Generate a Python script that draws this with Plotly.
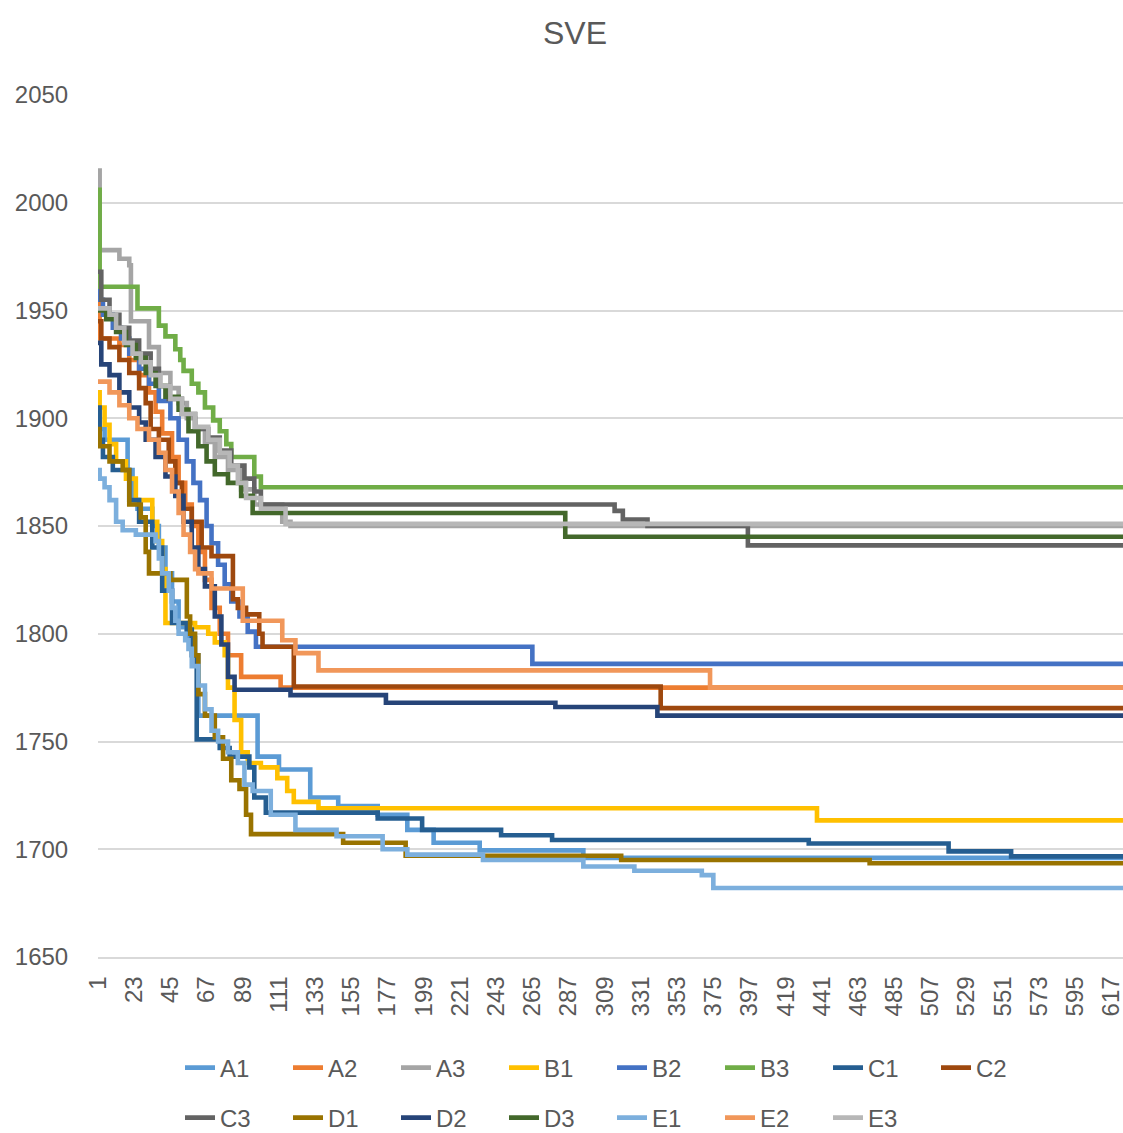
import plotly.graph_objects as go

# ---- data: (iteration, best value) step points ----
A1 = [(1, 1895), (5, 1890), (19, 1876), (22, 1862), (25, 1858), (34, 1850), (38, 1840), (42, 1828),
      (46, 1815), (50, 1803), (55, 1798), (60, 1790), (62, 1762), (98, 1743), (111, 1737), (130, 1724),
      (147, 1720), (171, 1716), (189, 1709), (205, 1703), (233, 1699.5), (296, 1696), (624, 1696)]
A2 = [(1, 1962), (2, 1937), (14, 1934), (20, 1927), (26, 1920), (32, 1912), (36, 1903), (40, 1893),
      (46, 1882), (50, 1870), (54, 1860), (58, 1850), (62, 1838), (66, 1825), (70, 1812), (75, 1800),
      (80, 1790), (88, 1780), (112, 1775), (624, 1775)]
A3 = [(1, 2015), (2, 1978), (14, 1974), (20, 1971), (21, 1945), (32, 1933), (38, 1921), (45, 1914),
      (50, 1907), (55, 1900), (60, 1895), (66, 1889), (72, 1882), (80, 1876), (88, 1867), (96, 1860),
      (113, 1852), (118, 1850), (624, 1850)]
B1 = [(1, 1912), (2, 1905), (5, 1897), (8, 1888), (12, 1880), (18, 1872), (24, 1862), (34, 1852),
      (37, 1843), (40, 1830), (42, 1805), (60, 1803), (68, 1800), (72, 1796), (78, 1790), (80, 1775),
      (84, 1760), (88, 1745), (92, 1740), (100, 1738), (110, 1733), (116, 1727), (120, 1722),
      (135, 1719), (438, 1713.4), (624, 1713.4)]
B2 = [(1, 1962), (2, 1955), (4, 1948), (10, 1942), (15, 1937), (20, 1930), (26, 1923), (32, 1916),
      (38, 1908), (45, 1900), (50, 1890), (55, 1880), (59, 1870), (63, 1862), (67, 1850), (70, 1842),
      (74, 1832), (78, 1823), (82, 1815), (87, 1808), (92, 1801), (97, 1794), (265, 1786), (624, 1786)]
B3 = [(1, 2006), (2, 1961), (25, 1951), (38, 1943), (42, 1938), (48, 1932), (51, 1927), (53, 1922),
      (58, 1916), (62, 1912), (66, 1905), (71, 1899), (75, 1894), (79, 1888), (82, 1882), (96, 1873),
      (100, 1868), (624, 1868)]
C1 = [(1, 1905), (2, 1890), (4, 1882), (10, 1876), (20, 1862), (26, 1852), (34, 1840), (40, 1820),
      (46, 1805), (55, 1802), (58, 1790), (61, 1751), (75, 1747), (81, 1743), (93, 1738), (96, 1724),
      (103, 1717), (171, 1714.3), (198, 1709), (246, 1706.5), (277, 1704.3), (433, 1702.7),
      (518, 1699), (556, 1696.7), (624, 1696.7)]
C2 = [(1, 1945), (3, 1937), (8, 1933), (14, 1927), (20, 1921), (26, 1914), (30, 1907), (33, 1895),
      (38, 1890), (44, 1880), (48, 1870), (52, 1858), (58, 1852), (64, 1840), (70, 1836), (83, 1816),
      (86, 1812), (91, 1809), (99, 1800), (101, 1794), (120, 1775.5), (343, 1765.5), (624, 1765.5)]
C3 = [(1, 1968), (3, 1955), (8, 1948), (14, 1942), (20, 1936), (26, 1930), (33, 1923), (38, 1915),
      (44, 1909), (52, 1902), (60, 1895), (68, 1891), (75, 1885), (82, 1878), (90, 1872), (96, 1866),
      (100, 1860), (315, 1857), (320, 1853), (335, 1850), (396, 1841), (624, 1841)]
D1 = [(1, 1895), (2, 1887), (8, 1880), (16, 1876), (20, 1860), (27, 1854), (30, 1838), (32, 1828),
      (45, 1825), (55, 1808), (57, 1800), (60, 1790), (62, 1772), (66, 1762), (72, 1752), (77, 1742),
      (82, 1732), (87, 1728), (91, 1716), (94, 1707), (150, 1703), (188, 1697), (319, 1695),
      (470, 1693.5), (624, 1693.5)]
D2 = [(1, 1935), (3, 1925), (8, 1920), (14, 1912), (20, 1905), (26, 1898), (30, 1890), (36, 1882),
      (42, 1873), (48, 1864), (53, 1852), (58, 1840), (62, 1830), (66, 1822), (72, 1808), (76, 1795),
      (80, 1780), (84, 1774), (118, 1771.5), (176, 1768), (279, 1766), (341, 1762), (624, 1762)]
D3 = [(1, 1950), (6, 1946), (12, 1940), (18, 1934), (24, 1928), (30, 1921), (36, 1915), (42, 1910),
      (50, 1904), (56, 1894), (62, 1887), (67, 1880), (72, 1874), (80, 1870), (88, 1864), (95, 1856),
      (285, 1845), (624, 1845)]
E1 = [(1, 1876), (2, 1872), (5, 1868), (8, 1862), (12, 1852), (16, 1848), (24, 1846), (36, 1843),
      (38, 1835), (40, 1828), (44, 1820), (46, 1812), (48, 1806), (50, 1800), (54, 1797), (56, 1793),
      (58, 1785), (62, 1776), (66, 1765), (70, 1755), (74, 1750), (80, 1745), (86, 1740), (90, 1730),
      (95, 1727), (106, 1716), (121, 1709), (146, 1706), (174, 1700), (189, 1697.5), (235, 1695),
      (296, 1692), (327, 1690), (368, 1688), (375, 1682), (624, 1682)]
E2 = [(1, 1917), (8, 1912), (14, 1906), (20, 1900), (25, 1895), (32, 1890), (38, 1884), (42, 1876),
      (46, 1866), (50, 1856), (53, 1846), (57, 1838), (60, 1830), (62, 1828), (70, 1821), (89, 1806),
      (113, 1797), (121, 1791), (135, 1783), (373, 1775), (624, 1775)]
E3 = [(1, 1951), (8, 1948), (12, 1942), (17, 1935), (22, 1930), (27, 1926), (33, 1920), (39, 1915),
      (45, 1909), (52, 1902), (60, 1896), (68, 1890), (75, 1884), (81, 1878), (86, 1870), (91, 1863),
      (100, 1858), (115, 1851), (624, 1851)]

SERIES_NAMES = ["A1", "A2", "A3", "B1", "B2", "B3", "C1", "C2",
                "C3", "D1", "D2", "D3", "E1", "E2", "E3"]
SERIES_DATA = [A1, A2, A3, B1, B2, B3, C1, C2, C3, D1, D2, D3, E1, E2, E3]
COLORS = ["#5B9BD5", "#ED7D31", "#A5A5A5", "#FFC000", "#4472C4", "#70AD47", "#255E91", "#9E480E",
          "#636363", "#997300", "#264478", "#43682B", "#7CAFDD", "#F1975A", "#B7B7B7"]
X_TICKS = [1, 23, 45, 67, 89, 111, 133, 155, 177, 199, 221, 243, 265, 287, 309, 331, 353, 375,
           397, 419, 441, 463, 485, 507, 529, 551, 573, 595, 617]
Y_TICKS = [1650, 1700, 1750, 1800, 1850, 1900, 1950, 2000, 2050]
TITLE = "SVE"

FONT = "Liberation Sans, Arial, sans-serif"
TXT = "#595959"

fig = go.Figure()
for i, (name, pts, col) in enumerate(zip(SERIES_NAMES, SERIES_DATA, COLORS)):
    fig.add_trace(go.Scatter(
        x=[p[0] for p in pts], y=[p[1] for p in pts], name=name, mode="lines",
        line=dict(color=col, width=4.6, shape="hv"),
        legend="legend" if i < 8 else "legend2",
    ))

leg_common = dict(orientation="h", xanchor="left", yanchor="middle",
                  font=dict(family=FONT, size=24, color=TXT),
                  entrywidth=63, entrywidthmode="pixels", bgcolor="rgba(0,0,0,0)",
                  tracegroupgap=0, itemwidth=30)

fig.update_layout(
    width=1123, height=1133,
    margin=dict(l=98, r=0, t=95, b=176, autoexpand=False),
    paper_bgcolor="white", plot_bgcolor="white",
    showlegend=True,
    title=dict(text=TITLE, x=575 / 1123, xanchor="center", y=1 - 33 / 1133, yanchor="middle",
               font=dict(family=FONT, size=32, color=TXT)),
    xaxis=dict(range=[1, 624], tickmode="array", tickvals=X_TICKS,
               ticktext=[str(v) for v in X_TICKS], tickangle=-90, automargin=False,
               ticklabeloverflow="allow",
               showgrid=False, zeroline=False, showline=True, linecolor="#D9D9D9", linewidth=1.5,
               ticks="outside", ticklen=8, tickcolor="rgba(0,0,0,0)",
               tickfont=dict(family=FONT, size=24, color=TXT)),
    yaxis=dict(range=[1650, 2050], tickmode="array", tickvals=Y_TICKS, automargin=False,
               showgrid=True, gridcolor="#D9D9D9", gridwidth=1.5, zeroline=False, showline=False,
               ticks="outside", ticklen=24, tickcolor="rgba(0,0,0,0)",
               tickfont=dict(family=FONT, size=24, color=TXT)),
    legend=dict(x=0.08, y=(957 - 1068) / 862, **leg_common),
    legend2=dict(x=0.08, y=(957 - 1118) / 862, **leg_common),
)

fig.write_html("out.html", config={"displayModeBar": False},
               post_script="document.body.style.margin='0px';document.body.style.overflow='hidden';")
